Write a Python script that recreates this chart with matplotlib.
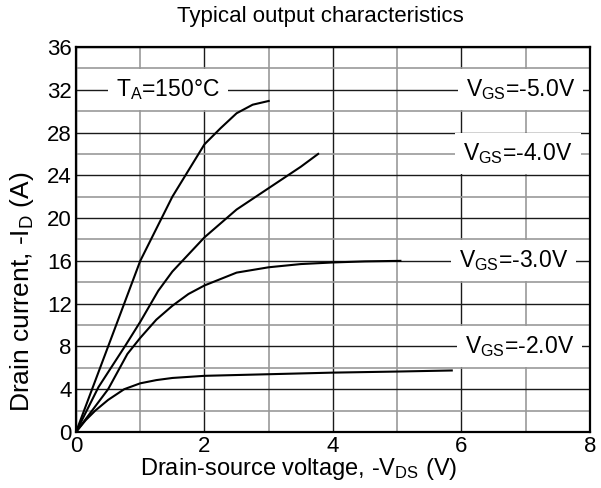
import matplotlib
matplotlib.use("Agg")
import matplotlib.pyplot as plt
from matplotlib.ticker import MultipleLocator

plt.rcParams['font.family'] = ['Liberation Sans', 'DejaVu Sans']
plt.rcParams['mathtext.fontset'] = 'custom'
plt.rcParams['mathtext.rm'] = 'Liberation Sans'
plt.rcParams['mathtext.it'] = 'Liberation Sans'

# curvas de salida (-VDS en V, -ID en A) para cada VGS
vds_5 = [0, 0.5, 1.0, 1.5, 2.0, 2.25, 2.5, 2.75, 3.0]
id_5 = [0, 8.0, 16.0, 22.0, 26.9, 28.4, 29.8, 30.6, 30.95]

vds_4 = [0, 0.35, 0.76, 1.0, 1.28, 1.5, 2.0, 2.5, 3.0, 3.5, 3.77]
id_4 = [0, 4.2, 8.0, 10.3, 13.2, 15.0, 18.2, 20.8, 22.8, 24.8, 26.0]

vds_3 = [0, 0.5, 0.8, 1.0, 1.25, 1.5, 1.75, 2.0, 2.5, 3.0, 3.5, 4.0, 4.5, 5.05]
id_3 = [0, 4.0, 7.3, 8.8, 10.5, 11.8, 12.9, 13.7, 14.9, 15.4, 15.7, 15.85, 15.95, 16.0]

vds_2 = [0, 0.15, 0.3, 0.5, 0.75, 1.0, 1.25, 1.5, 2.0, 3.0, 4.0, 5.0, 5.85]
id_2 = [0, 1.1, 2.0, 3.0, 4.0, 4.55, 4.85, 5.05, 5.25, 5.4, 5.55, 5.65, 5.75]

etiquetas = [r'V$_{\mathrm{GS}}$=-5.0V', r'V$_{\mathrm{GS}}$=-4.0V',
             r'V$_{\mathrm{GS}}$=-3.0V', r'V$_{\mathrm{GS}}$=-2.0V']
pos_etiquetas = [(6.92, 32), (6.88, 26), (6.81, 16), (6.9, 8)]

fig = plt.figure(figsize=(6.01, 4.88), dpi=100)
ax = fig.add_axes([0.1265, 0.1148, 0.855, 0.789])

ax.set_xlim(0, 8)
ax.set_ylim(0, 36)
ax.xaxis.set_major_locator(MultipleLocator(2))
ax.xaxis.set_minor_locator(MultipleLocator(1))
ax.yaxis.set_major_locator(MultipleLocator(4))
ax.yaxis.set_minor_locator(MultipleLocator(2))
ax.grid(True, which='major', color='#1a1a1a', linewidth=1.0, zorder=0)
ax.grid(True, which='minor', color='#999999', linewidth=1.2, zorder=0)
ax.set_axisbelow(True)
ax.tick_params(which='both', length=0, labelsize=16, pad=3)
for s in ax.spines.values():
    s.set_linewidth(1.6)

for x, y in [(vds_5, id_5), (vds_4, id_4), (vds_3, id_3), (vds_2, id_2)]:
    ax.plot(x, y, color='black', linewidth=1.5, zorder=3)

caja = dict(boxstyle='square,pad=0.35', facecolor='white', edgecolor='none')
for txt, (x, y) in zip(etiquetas, pos_etiquetas):
    ax.text(x, y, txt, fontsize=16.5, ha='center', va='center', bbox=caja, zorder=4)
ax.text(1.43, 32, r'T$_{\mathrm{A}}$=150°C', fontsize=16.5, ha='center', va='center',
        bbox=caja, zorder=4)

# titulo y ejes un poco corridos respecto del centro
ax.text(0.475, 1.08, 'Typical output characteristics', fontsize=16,
        ha='center', va='center', transform=ax.transAxes)
ax.set_xlabel(r'Drain-source voltage, -V$_{\mathrm{DS}}$ (V)', fontsize=17)
ax.set_ylabel(r'Drain current, -I$_{\mathrm{D}}$ (A)', fontsize=19)
ax.xaxis.set_label_coords(0.434, -0.097)
ax.yaxis.set_label_coords(-0.105, 0.364)
ax.xaxis.label.set_va('center')
ax.yaxis.label.set_va('center')

fig.savefig('out.png', dpi=100)
